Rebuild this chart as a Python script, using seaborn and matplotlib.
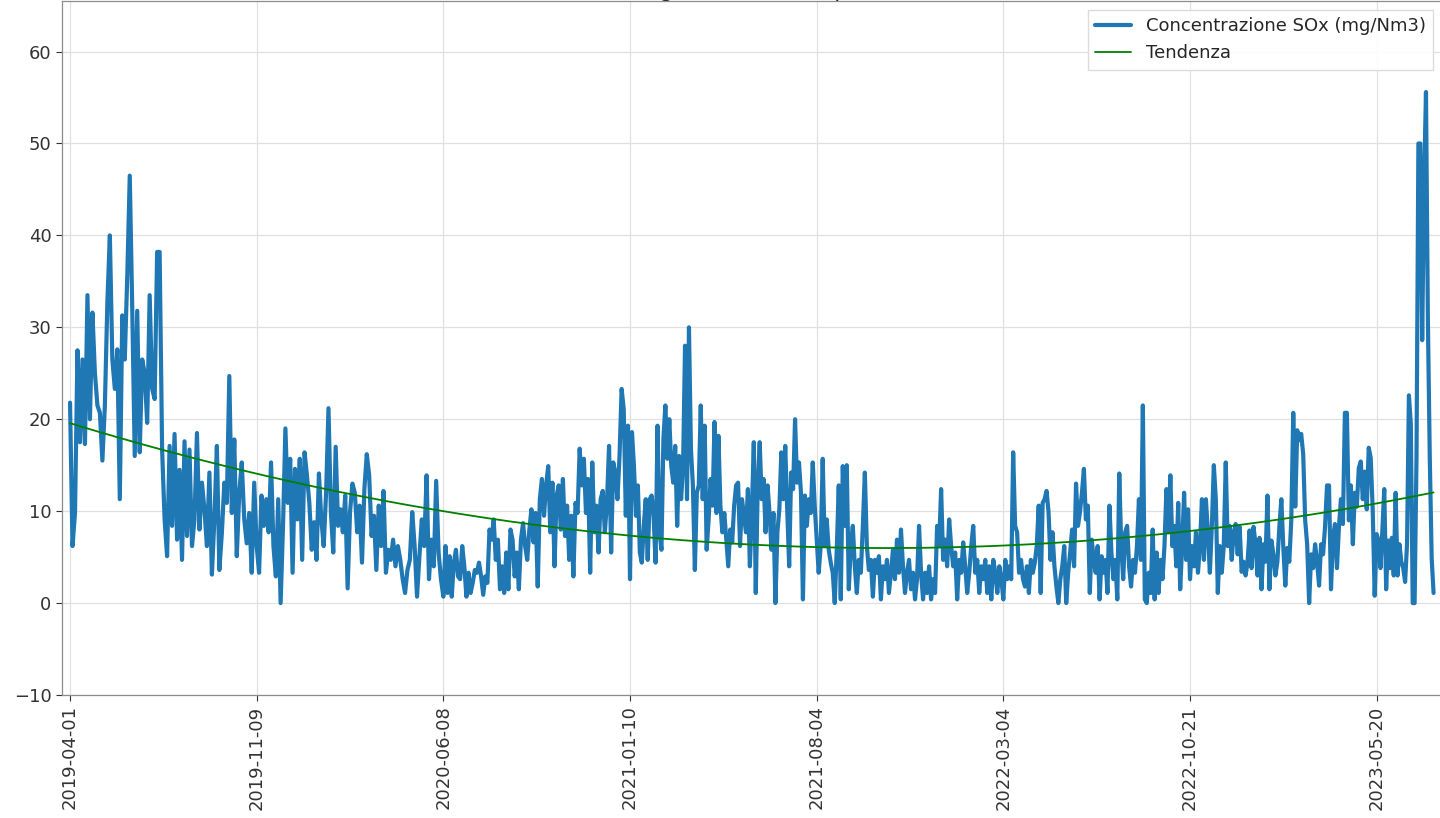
import numpy as np
import matplotlib
matplotlib.use("Agg")
import matplotlib.pyplot as plt
import seaborn as sns

# Valori, un tratto per ogni intervallo tra le etichette dell'asse x
seg1 = [21.8, 6.2, 9.8, 27.5, 17.5, 26.5, 17.3, 33.5, 20, 31.6, 25, 21.5, 20.7, 15.5, 21.5,
        32.7, 40, 26.5, 23.3, 27.6, 11.3, 31.3, 26.5, 35.6, 46.5, 32, 16, 31.8, 16.4, 26.5,
        25, 19.6, 33.5, 23.3, 22.2, 38.2, 38.2, 16.7, 9.1, 5.1, 17.1, 8.4, 18.4, 6.9, 14.5,
        4.7, 17.6, 7.3, 16.7, 6.2, 9.1, 18.5, 8, 13.1, 10.2, 6.2, 14.2, 3.1, 9.1, 17.1,
        3.6, 7.6, 13.1, 10.9, 24.7, 9.8, 17.8, 5.1, 12, 15.3, 9.1, 6.5, 9.8, 3.3, 13.1]
seg2 = [6.2, 3.3, 11.7, 8.4, 11.3, 7.7, 15.3, 6.2, 2.9, 11.3, 0, 8.4, 19, 10.9, 15.7, 3.3,
        14.6, 9.1, 15.7, 4.7, 16.4, 13.9, 10.9, 5.8, 8.8, 4.7, 14.1, 9.1, 6.2, 12, 21.2, 9.9,
        5.5, 17, 8.4, 10.2, 7.7, 11.7, 1.6, 9.9, 13, 12, 7.7, 10.6, 4.4, 12.4, 16.2, 13.9,
        7.3, 9.5, 3.6, 10.6, 6.2, 12.2, 3.3, 5.8, 4.7, 6.9, 4, 6.2, 4.7, 2.6, 1.1, 3.6, 4.7,
        9.9, 6.2, 0.7, 5.1, 9.1, 6.2, 13.9, 2.6, 6.9, 4, 13.3, 5.5, 2.6]
seg3 = [0.7, 6.2, 1.1, 5.1, 0.7, 4.4, 5.8, 2.9, 2.6, 6.2, 4, 0.7, 3.3, 1.1, 2.2, 3.6, 3.3,
        4.4, 2.9, 0.9, 2.9, 2.2, 8, 6.9, 9.1, 4.7, 6.9, 1.5, 4, 1.1, 5.5, 1.5, 8, 6.9, 2.9,
        5.5, 1.5, 6.9, 8.7, 6.2, 4.7, 8, 10.2, 6.6, 9.8, 1.8, 11.3, 13.5, 9.5, 12.8, 14.9,
        7.7, 13.1, 4, 11.7, 12.8, 8, 13.5, 7.3, 10.6, 4.7, 9.5, 2.9, 10.9, 9.8, 16.8, 12.8,
        15.7, 9.8, 13.5, 3.3, 15.3, 7.7, 10.6, 5.5, 11.3, 12.2, 7.7, 10.9, 17.1, 5.5, 15.3,
        14.2, 11.3, 16, 23.3, 21.1, 9.5, 19.3]
seg4 = [2.6, 18.6, 14.9, 9.5, 12.8, 5.5, 4.4, 8.4, 11.3, 4.7, 11.3, 11.7, 9.5, 4.4, 19.3,
        7.7, 5.8, 17.9, 21.5, 15.7, 20, 14.9, 13.1, 17.1, 8.4, 16, 11.3, 14.9, 28, 11.3, 30,
        16.8, 12.8, 3.6, 12, 12.8, 21.5, 11.3, 19.3, 5.8, 9.1, 13.5, 10.6, 19.7, 9.8, 18.2,
        10.6, 7.7, 9.8, 6.9, 4, 8, 6.6, 10.6, 12.8, 13.1, 6.2, 11.3, 9.5, 7.7, 12.4, 4, 9.8,
        17.5, 1.1, 12.8, 17.5, 11.3, 13.5, 7.7, 12.8, 9.8, 5.8, 9.8, 0, 7.7, 10.2, 16.4,
        11.3, 17.1, 10.2, 4, 14.2, 12.4, 20, 13.1, 15.3, 12, 0.4, 11.7, 8.4, 11.3, 9.8,
        15.3, 10.6]
seg5 = [6.9, 3.3, 6.2, 15.7, 6.2, 9.1, 5.8, 4.4, 3.3, 0, 5.8, 12.8, 0.4, 14.9, 8.4, 15,
        1.5, 6.2, 8.4, 4, 1.1, 4.7, 3.3, 8.4, 14.2, 6.2, 3.6, 4.7, 0.7, 4.7, 3.3, 5.1, 0.4,
        4, 2.6, 4.7, 1.1, 3.3, 5.8, 2.6, 6.9, 3.3, 8, 4, 1.1, 3.3, 4.7, 1.5, 3.3, 0.4, 2.6,
        8.4, 3.3, 0.4, 3.3, 1.1, 4, 0.4, 2.6, 1.1, 8.4, 6.2, 12.4, 4.7, 6.9, 4, 9.1, 6.2, 4,
        5.5, 0.4, 4.7, 3.3, 6.6, 4, 1.1, 3.3, 6.2, 8.4, 3.3, 4.7, 1.1, 4, 2.6, 4.7, 1.1, 4,
        0.4, 4.7, 3.3, 1.1, 4, 2.6]
seg6 = [0.4, 4.7, 2.6, 4, 2.6, 16.4, 8.4, 7.7, 3.3, 4.7, 2.6, 1.8, 4, 1.1, 4.7, 3.3, 4.4,
        6.2, 10.6, 1.1, 10.9, 11.3, 12.2, 9.9, 4.7, 7.7, 4, 1.8, 0, 2.6, 4, 6.2, 0, 3.3, 5.5,
        8, 4, 13, 8.4, 9.9, 12, 14.6, 9.1, 10.6, 1.1, 6.9, 4.7, 3.3, 6.2, 0.4, 5.1, 3.3, 4.7,
        1.1, 10.6, 5.5, 2.6, 4.7, 0.4, 14.1, 6.2, 2.6, 7.7, 8.4, 4, 1.8, 4.7, 3.3, 6.2, 11.3,
        4.7, 21.5, 0.4, 0, 3.3, 1.1, 8, 0.4, 5.5, 1.1, 4.7, 2.6, 6.2, 12.4, 7.7, 13.9, 6.2,
        8.4, 4, 10.9, 1.5, 6.2, 12, 4.7, 10.2]
seg7 = [2.6, 6.2, 4, 7.7, 3.3, 6.2, 11.3, 4.7, 11.3, 7.7, 3.3, 8.4, 15, 11.3, 1.1, 6.2,
        3.3, 6.2, 15.3, 6.2, 8.4, 4.7, 7.7, 8.6, 5.3, 8.3, 3.4, 4.5, 3, 4.5, 7.9, 3.8, 8.3,
        6.4, 3, 7.1, 1.5, 6.4, 4.5, 11.7, 1.5, 6.8, 5.3, 3, 4.5, 8.3, 11.3, 6, 1.9, 6, 4.5,
        9, 20.7, 10.5, 18.8, 17.7, 18.4, 16.2, 9, 6.4, 0, 5.3, 3.8, 6.4, 4.5, 1.9, 6.4, 5.3,
        8.3, 12.8, 12.8, 1.5, 7.1, 8.6, 3.8, 8.3, 11.3, 8.6, 20.7, 20.7, 9, 12.8, 6.4, 12,
        10.5, 14.7, 15.4, 11.3, 14.3, 10.2, 16.9, 15.8, 10.2, 0.8]
seg8 = [7.5, 6.8, 3.8, 7.9, 12.4, 1.5, 6.8, 3.8, 7.1, 3, 12, 3, 6.4, 4.5, 3.8, 2.3, 6.4,
        22.6, 19.5, 0, 0, 15.8, 50, 50, 28.6, 45.9, 55.6, 30.8, 15.8, 4.9, 1.1]

segments = [seg1, seg2, seg3, seg4, seg5, seg6, seg7, seg8]
seg_rows = [200, 200, 200, 200, 200, 200, 200, 63]  # righe del dataset per tratto

tick_labels = ['2019-04-01', '2019-11-09', '2020-06-08', '2021-01-10',
               '2021-08-04', '2022-03-04', '2022-10-21', '2023-05-20']

# indice di riga per ogni valore
xs, ys = [], []
start = 0
for seg, rows in zip(segments, seg_rows):
    xs.append(np.linspace(start, start + rows, len(seg), endpoint=False))
    ys.append(np.array(seg, dtype=float))
    start += rows
x = np.concatenate(xs)
y = np.concatenate(ys)

# linea di tendenza (polinomio di 2° grado)
coef = np.polyfit(x, y, 2)
trend = np.polyval(coef, x)

sns.set_style("whitegrid")
plt.rcParams['font.family'] = ['DejaVu Sans']

fig = plt.figure(figsize=(14.4, 8.18), dpi=100)
ax = fig.add_axes([62 / 1440, 123 / 818, 1380 / 1440, 694 / 818])

sns.lineplot(x=x, y=y, ax=ax, color='#1f77b4', linewidth=3.0,
             label='Concentrazione SOx (mg/Nm3)')
sns.lineplot(x=x, y=trend, ax=ax, color='green', linewidth=1.3, label='Tendenza')

ax.set_title('Concentrazione SOx (mg/Nm3) nel tempo con linea di tendenza',
             fontsize=16, pad=3)
ax.set_xlim(-8.6, 1470)
ax.set_ylim(-10, 65.5)
ax.set_yticks(range(-10, 61, 10))
ax.set_xticks(range(0, 1401, 200))
ax.set_xticklabels(tick_labels, rotation=90)
ax.tick_params(axis='both', labelsize=13, colors='0.2', length=4, width=0.8,
               direction='out', bottom=True, left=True)
ax.grid(True, color='0.88', linewidth=0.9)
ax.set_xlabel('')
ax.set_ylabel('')
for side in ['left', 'bottom', 'top', 'right']:
    ax.spines[side].set_color('0.55')
    ax.spines[side].set_linewidth(0.9)

ax.legend(loc='upper right', fontsize=13, frameon=True, framealpha=0.9,
          edgecolor='0.85', fancybox=False)

fig.savefig('out.png', dpi=100)
